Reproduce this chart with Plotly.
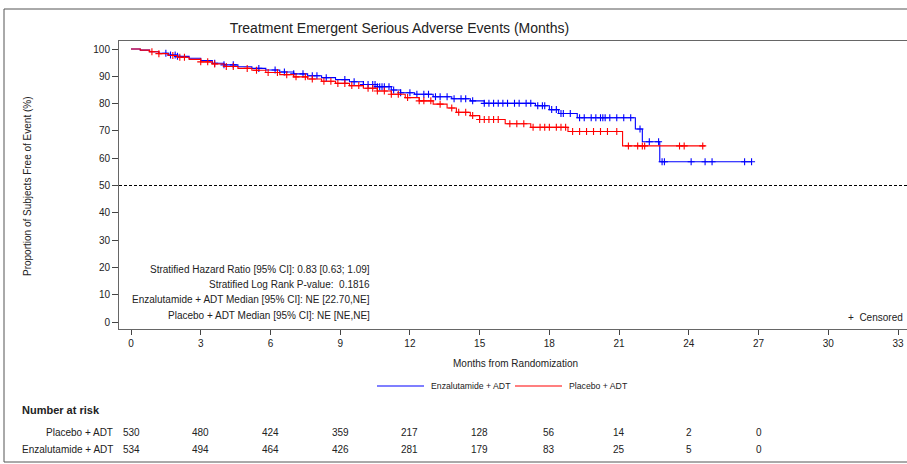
import numpy as np
import plotly.graph_objects as go

# ---------------- data ----------------
enz_times = [0, 0.4, 0.8, 1.2, 1.6, 2.0, 2.5, 3.0, 3.5, 4.0, 4.6, 5.2, 5.8, 6.4, 7.0, 7.6,
             8.2, 8.8, 9.4, 10.0, 10.6, 11.2, 11.6, 12.2, 13.0, 13.8, 14.6, 15.2, 17.4,
             18.0, 18.4, 19.2, 21.7, 22.0, 22.75]
enz_surv = [100, 99.6, 99.0, 98.4, 97.8, 97.3, 96.6, 95.8, 94.8, 94.2, 93.5, 92.9, 92.3,
            91.6, 90.9, 90.2, 89.5, 88.8, 88.0, 87.0, 86.2, 85.0, 84.0, 83.4, 82.5, 81.8,
            81.0, 80.1, 79.2, 77.8, 76.4, 74.8, 70.7, 66.0, 58.7]
enz_end = 26.7
enz_censor = [1.5, 1.7, 1.9, 2.0, 3.6, 4.0, 4.4, 5.5, 6.2, 6.6, 7.0, 7.4, 7.8, 8.0, 8.4,
              9.2, 9.6, 10.0, 10.2, 10.4, 10.5, 10.6, 10.7, 10.8, 10.9, 11.1, 11.3, 11.6,
              12.0, 12.3, 12.6, 12.8, 13.1, 13.3, 13.6, 13.9, 14.2, 14.4, 14.7, 15.2, 15.4,
              15.6, 15.8, 16.0, 16.2, 16.5, 16.7, 17.0, 17.2, 17.5, 17.7, 17.8, 18.1, 18.3,
              18.5, 18.6, 18.9, 19.3, 19.5, 19.8, 20.0, 20.2, 20.3, 20.4, 20.6, 20.9, 21.2,
              21.5, 21.9, 22.3, 22.7, 22.85, 22.95, 24.1, 24.7, 25.0, 26.4, 26.7]

pbo_times = [0, 0.4, 0.8, 1.2, 1.6, 2.0, 2.5, 3.0, 3.5, 4.0, 4.6, 5.2, 5.8, 6.4, 7.0, 7.6,
             8.2, 8.8, 9.4, 10.0, 10.6, 11.2, 11.8, 12.4, 13.0, 13.6, 14.0, 14.6, 15.0,
             16.1, 17.2, 18.8, 21.15]
pbo_surv = [100, 99.6, 99.0, 98.3, 97.6, 97.0, 96.2, 95.3, 94.5, 93.6, 92.9, 92.2, 91.4,
            90.6, 89.8, 89.0, 88.2, 87.4, 86.6, 85.6, 84.6, 83.4, 82.2, 81.0, 79.8, 78.4,
            76.8, 75.6, 74.2, 72.6, 71.3, 69.8, 64.5]
pbo_end = 24.7
pbo_censor = [0.9, 1.2, 1.8, 2.1, 2.3, 3.0, 3.3, 3.6, 4.1, 4.4, 5.0, 5.4, 5.9, 6.3, 6.7,
              7.1, 7.5, 7.8, 8.3, 8.6, 8.9, 9.2, 9.5, 9.8, 10.2, 10.4, 10.6, 10.9, 11.2,
              11.5, 11.9, 12.4, 12.6, 12.9, 13.3, 13.8, 14.1, 14.4, 14.7, 15.0, 15.2, 15.4,
              15.6, 15.8, 16.3, 16.6, 16.9, 17.3, 17.6, 17.8, 18.0, 18.3, 18.5, 18.7, 19.0,
              19.3, 19.6, 19.9, 20.2, 20.5, 20.9, 21.4, 21.8, 22.0, 22.1, 23.6, 23.8, 24.6]

risk_months = [0, 3, 6, 9, 12, 15, 18, 21, 24, 27]
risk_pbo = [530, 480, 424, 359, 217, 128, 56, 14, 2, 0]
risk_enz = [534, 494, 464, 426, 281, 179, 83, 25, 5, 0]

x_ticks = list(range(0, 34, 3))
y_ticks = list(range(0, 101, 10))

stats_lines = [
    "Stratified Hazard Ratio [95% CI]: 0.83 [0.63; 1.09]",
    "Stratified Log Rank P-value:  0.1816",
    "Enzalutamide + ADT Median [95% CI]: NE [22.70,NE]",
    "Placebo + ADT Median [95% CI]: NE [NE,NE]",
]

BLUE = "#0000ff"
RED = "#ff0000"
FONT = "Liberation Sans, Arial, sans-serif"
TXT = "#222222"

# ---------------- layout geometry (pixels) ----------------
W, H = 907, 464
L, R, T, B = 119, 0, 41, 135
PW, PH = W - L - R, H - T - B


def py(p):  # pixel y -> paper y
    return (H - B - p) / PH


def px(p):  # pixel x -> paper x
    return (p - L) / PW


def step_val(times, surv, t):
    i = np.searchsorted(np.array(times), t, side="right") - 1
    return surv[i]


fig = go.Figure()

arms = [
    ("Enzalutamide + ADT", enz_times, enz_surv, enz_end, enz_censor, BLUE),
    ("Placebo + ADT", pbo_times, pbo_surv, pbo_end, pbo_censor, RED),
]
for name, times, surv, end, cens, col in arms:
    fig.add_trace(go.Scatter(
        x=times + [end], y=surv + [surv[-1]], mode="lines", name=name,
        line=dict(color=col, width=1.1, shape="hv"), showlegend=False, hoverinfo="skip",
    ))
    fig.add_trace(go.Scatter(
        x=cens, y=[step_val(times, surv, t) for t in cens], mode="markers",
        marker=dict(symbol="cross-thin", size=5, line=dict(color=col, width=1.1)),
        showlegend=False, hoverinfo="skip",
    ))

annotations = []
# stats block
for i, s in enumerate(stats_lines):
    annotations.append(dict(
        text=s, xref="paper", yref="paper", x=px(372), y=py(269 + i * 15.4),
        xanchor="right", yanchor="middle", showarrow=False,
        font=dict(family=FONT, size=10, color=TXT),
    ))
# censored key
annotations.append(dict(
    text="+  Censored", xref="paper", yref="paper", x=px(905), y=py(317),
    xanchor="right", yanchor="middle", showarrow=False,
    font=dict(family=FONT, size=10, color=TXT),
))
# x-axis title
annotations.append(dict(
    text="Months from Randomization", xref="paper", yref="paper", x=px(515), y=py(363),
    xanchor="center", yanchor="middle", showarrow=False,
    font=dict(family=FONT, size=10, color=TXT),
))
# y-axis title
annotations.append(dict(
    text="Proportion of Subjects Free of Event (%)", xref="paper", yref="paper",
    x=px(27), y=py(186), xanchor="center", yanchor="middle", textangle=-90,
    showarrow=False, font=dict(family=FONT, size=10, color=TXT),
))
# number at risk
annotations.append(dict(
    text="<b>Number at risk</b>", xref="paper", yref="paper", x=px(20), y=py(410),
    xanchor="left", yanchor="middle", showarrow=False,
    font=dict(family=FONT, size=11, color=TXT),
))
for label, vals, yp in [("Placebo + ADT", risk_pbo, 432), ("Enzalutamide + ADT", risk_enz, 449)]:
    annotations.append(dict(
        text=label, xref="paper", yref="paper", x=px(115), y=py(yp),
        xanchor="right", yanchor="middle", showarrow=False,
        font=dict(family=FONT, size=10, color=TXT),
    ))
    for m, v in zip(risk_months, vals):
        annotations.append(dict(
            text=str(v), xref="x", yref="paper", x=m, y=py(yp),
            xanchor="center", yanchor="middle", showarrow=False,
            font=dict(family=FONT, size=10, color=TXT),
        ))

shapes = [
    # outer frame
    dict(type="rect", xref="paper", yref="paper", x0=px(4), x1=px(915), y0=py(462), y1=py(9),
         line=dict(color="#555555", width=1), fillcolor="rgba(0,0,0,0)", layer="below"),
    # 50% reference line
    dict(type="line", xref="paper", yref="y", x0=0, x1=1, y0=50, y1=50,
         line=dict(color="black", width=1, dash="3px,2px")),
]

# legend (line sample + label for each arm)
legend_pos = [(377, 424, 429), (515, 562, 567)]
for (name, _t, _s, _e, _c, col), (lx0, lx1, tx) in zip(arms, legend_pos):
    shapes.append(dict(type="line", xref="paper", yref="paper", x0=px(lx0), x1=px(lx1),
                       y0=py(386), y1=py(386), line=dict(color=col, width=1.1)))
    annotations.append(dict(
        text=name, xref="paper", yref="paper", x=px(tx), y=py(386),
        xanchor="left", yanchor="middle", showarrow=False,
        font=dict(family=FONT, size=8.7, color=TXT),
    ))

x_px_per = (898 - 131) / 33.0
y_px_per = (322 - 49) / 100.0
xr = [(L - 131) / x_px_per, (W - R - 131) / x_px_per]
yr = [-(H - B - 322) / y_px_per, 100 + (49 - T) / y_px_per]

fig.update_layout(
    width=W, height=H,
    margin=dict(l=L, r=R, t=T, b=B, pad=0),
    paper_bgcolor="white", plot_bgcolor="white",
    title=dict(text="Treatment Emergent Serious Adverse Events (Months)",
               x=px(466), xanchor="center", y=1 - 28 / H, yanchor="middle",
               font=dict(family=FONT, size=14, color=TXT)),
    font=dict(family=FONT, size=10, color=TXT),
    showlegend=False,
    hovermode=False,
    xaxis=dict(range=xr, tickvals=x_ticks, ticks="outside", ticklen=5, tickcolor="#444",
               showline=True, linecolor="#666", linewidth=1, mirror=True,
               showgrid=False, zeroline=False, tickfont=dict(size=10, color=TXT)),
    yaxis=dict(range=yr, tickvals=y_ticks, ticks="outside", ticklen=6, tickcolor="#444",
               showline=True, linecolor="#666", linewidth=1, mirror=False,
               showgrid=False, zeroline=False, tickfont=dict(size=10, color=TXT)),
    annotations=annotations, shapes=shapes,
)

fig.write_html("out.html", config={"displayModeBar": False, "staticPlot": True},
               post_script="document.body.style.margin='0';")
